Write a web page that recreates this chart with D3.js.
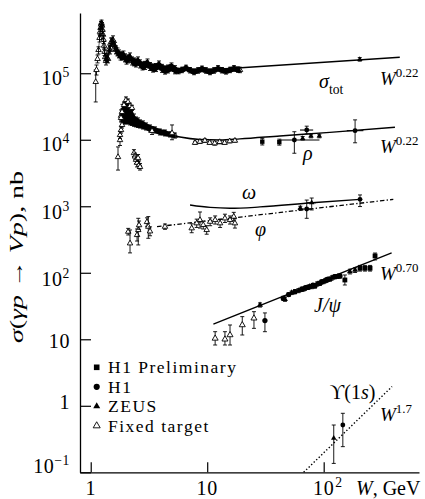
<!DOCTYPE html>
<html>
<head>
<meta charset="utf-8">
<script src="https://cdn.jsdelivr.net/npm/d3@7"></script>
<style>
  html, body { margin: 0; padding: 0; background: #fff; }
  svg { display: block; font-family: "Liberation Serif", "Times New Roman", serif; }
</style>
</head>
<body>
<svg id="chart" width="425" height="499"></svg>
<script>
// Vector-meson photoproduction cross sections sigma(gamma p -> V p) versus W.
// Each point: [W (GeV), sigma (nb), sigma low, sigma high, experiment, W low, W high]
// Experiments: H1P = H1 Preliminary, H1, ZEUS, FT = fixed target.

// Total photoabsorption cross section
const sigmaTotThreshold = [
  [1.104, 7.4e4, 3.7e4, 1.12e5, 'FT'], [1.121, 1.12e5, 9.4e4, 1.33e5, 'FT'],
  [1.144, 1.64e5, 1.43e5, 1.88e5, 'FT']
];
// dense low-energy measurements (sorted in W)
const sigmaTotDense = [
  [1.167, 2.24e5, 1.95e5, 2.5e5, 'FT'],
  [1.19, 3.4e5, 2.95e5, 3.8e5, 'FT'], [1.202, 4.2e5, 3.7e5, 4.7e5, 'FT'],
  [1.214, 4.8e5, 4.2e5, 5.5e5, 'FT'], [1.226, 5.4e5, 4.8e5, 6.0e5, 'FT'],
  [1.238, 5.7e5, 5.0e5, 6.3e5, 'FT'], [1.25, 5.2e5, 4.6e5, 5.8e5, 'FT'],
  [1.263, 4.5e5, 3.9e5, 5.2e5, 'FT'], [1.275, 3.8e5, 3.3e5, 4.3e5, 'FT'],
  [1.288, 3.2e5, 2.8e5, 3.7e5, 'FT'], [1.301, 2.6e5, 2.3e5, 3.0e5, 'FT'],
  [1.314, 2.1e5, 1.85e5, 2.4e5, 'FT'], [1.33, 1.75e5, 1.55e5, 2.0e5, 'FT'],
  [1.353, 1.53e5, 1.33e5, 1.76e5, 'FT'], [1.38, 1.7e5, 1.48e5, 1.96e5, 'FT'],
  [1.408, 1.64e5, 1.43e5, 1.89e5, 'FT'], [1.436, 2.32e5, 2.02e5, 2.67e5, 'FT'],
  [1.465, 2.24e5, 1.95e5, 2.58e5, 'FT'], [1.494, 2.95e5, 2.57e5, 3.39e5, 'FT'],
  [1.523, 2.95e5, 2.57e5, 3.39e5, 'FT'], [1.554, 3.17e5, 2.76e5, 3.65e5, 'FT'],
  [1.585, 2.66e5, 2.31e5, 3.06e5, 'FT'], [1.617, 2.53e5, 2.2e5, 2.91e5, 'FT'],
  [1.649, 2.24e5, 1.95e5, 2.58e5, 'FT'], [1.698, 2.09e5, 1.82e5, 2.4e5, 'FT'],
  [1.75, 1.95e5, 1.7e5, 2.24e5, 'FT'], [1.803, 1.82e5, 1.58e5, 2.09e5, 'FT'],
  [1.857, 1.82e5, 1.58e5, 2.09e5, 'FT'], [1.912, 1.88e5, 1.63e5, 2.16e5, 'FT'],
  [1.97, 1.7e5, 1.48e5, 1.96e5, 'FT'], [2.029, 1.58e5, 1.37e5, 1.82e5, 'FT'],
  [2.09, 1.64e5, 1.43e5, 1.89e5, 'FT'], [2.175, 1.76e5, 1.53e5, 2.02e5, 'FT'],
  [2.262, 1.53e5, 1.33e5, 1.76e5, 'FT'], [2.353, 1.48e5, 1.29e5, 1.7e5, 'FT'],
  [2.448, 1.43e5, 1.24e5, 1.64e5, 'FT'], [2.547, 1.53e5, 1.33e5, 1.76e5, 'FT'],
  [2.65, 1.38e5, 1.2e5, 1.59e5, 'FT'], [2.784, 1.29e5, 1.12e5, 1.48e5, 'FT'],
  [2.925, 1.31e5, 1.14e5, 1.51e5, 'FT'], [3.073, 1.43e5, 1.24e5, 1.64e5, 'FT'],
  [3.228, 1.26e5, 1.1e5, 1.45e5, 'FT'], [3.426, 1.2e5, 1.04e5, 1.38e5, 'FT'],
  [3.636, 1.22e5, 1.06e5, 1.4e5, 'FT'], [3.857, 1.33e5, 1.16e5, 1.53e5, 'FT'],
  [4.093, 1.18e5, 1.03e5, 1.36e5, 'FT'], [4.344, 1.12e5, 9.7e4, 1.29e5, 'FT'],
  [4.608, 1.16e5, 1.01e5, 1.33e5, 'FT'], [4.938, 1.24e5, 1.08e5, 1.43e5, 'FT'],
  [5.292, 1.13e5, 9.8e4, 1.3e5, 'FT'], [5.671, 1.08e5, 9.8e4, 1.19e5, 'FT'],
  [6.077, 1.12e5, 1.02e5, 1.23e5, 'FT'], [6.577, 1.2e5, 1.09e5, 1.32e5, 'FT'],
  [7.119, 1.11e5, 1.01e5, 1.22e5, 'FT'], [7.703, 1.05e5, 9.5e4, 1.16e5, 'FT'],
  [8.337, 1.1e5, 1.0e5, 1.21e5, 'FT'], [9.024, 1.16e5, 1.05e5, 1.28e5, 'FT'],
  [9.765, 1.1e5, 1.0e5, 1.21e5, 'FT'], [10.57, 1.05e5, 9.5e4, 1.16e5, 'FT'],
  [11.44, 1.1e5, 1.0e5, 1.21e5, 'FT'], [12.38, 1.18e5, 1.07e5, 1.3e5, 'FT'],
  [13.4, 1.11e5, 1.01e5, 1.22e5, 'FT'], [14.5, 1.07e5, 9.7e4, 1.18e5, 'FT'],
  [15.7, 1.12e5, 1.02e5, 1.23e5, 'FT'], [16.98, 1.18e5, 1.07e5, 1.3e5, 'FT'],
  [18.38, 1.13e5, 1.03e5, 1.24e5, 'FT'], [19.12, 1.12e5, 1.02e5, 1.23e5, 'FT']
];
const sigmaTotHera = [[204, 1.62e5, 1.52e5, 1.72e5, 'ZEUS']];

// rho
const rhoDense = [
  [1.82, 2.3e4, 1.85e4, 2.81e4, 'FT'], [1.876, 2.7e4, 1.73e4, 3.4e4, 'FT'],
  [1.931, 3.0e4, 1.73e4, 3.57e4, 'FT'], [2.009, 3.2e4, 1.73e4, 3.7e4, 'FT'],
  [2.09, 3.0e4, 1.73e4, 3.57e4, 'FT'], [2.175, 2.6e4, 1.67e4, 3.3e4, 'FT'],
  [2.262, 2.3e4, 1.64e4, 2.9e4, 'FT'], [2.353, 2.0e4, 1.59e4, 2.44e4, 'FT'],
  [2.448, 1.87e4, 1.56e4, 2.2e4, 'FT'], [2.547, 1.8e4, 1.53e4, 2.13e4, 'FT'],
  [2.65, 1.73e4, 1.5e4, 1.99e4, 'FT'], [2.811, 1.66e4, 1.45e4, 1.92e4, 'FT'],
  [2.984, 1.58e4, 1.4e4, 1.79e4, 'FT'], [3.228, 1.48e4, 1.31e4, 1.67e4, 'FT'],
  [3.564, 1.4e4, 1.26e4, 1.56e4, 'FT'], [3.93, 1.31e4, 1.18e4, 1.45e4, 'FT'],
  [4.344, 1.26e4, 1.14e4, 1.4e4, 'FT'], [4.794, 1.2e4, 1.1e4, 1.31e4, 'FT'],
  [5.292, 1.15e4, 1.06e4, 1.26e4, 'FT']
];
const rhoPoints = [
  [1.715, 5.5e3, 3.5e3, 7.8e3, 'FT'], [1.784, 9.9e3, 8.2e3, 1.2e4, 'FT'],
  [1.784, 1.18e4, 1.05e4, 1.33e4, 'FT'], [1.82, 1.4e4, 1.26e4, 1.56e4, 'FT'],
  [1.857, 1.67e4, 1.5e4, 1.85e4, 'FT'], [1.82, 2.13e4, 1.92e4, 2.36e4, 'FT'],
  [1.857, 2.62e4, 2.36e4, 2.9e4, 'FT'], [1.931, 3.33e4, 3.0e4, 3.7e4, 'FT'],
  [2.009, 3.96e4, 3.6e4, 4.4e4, 'FT'], [2.09, 3.7e4, 3.35e4, 4.1e4, 'FT'],
  [2.175, 3.22e4, 2.9e4, 3.55e4, 'FT'], [2.262, 3.01e4, 2.75e4, 3.3e4, 'FT'],
  [3.36, 1.36e4, 1.2e4, 1.56e4, 'FT'], [4.99, 1.26e4, 1.0e4, 1.67e4, 'FT'],
  [2.35, 6.3e3, 5.6e3, 7.1e3, 'FT'], [2.4, 5.6e3, 5.0e3, 6.3e3, 'FT'],
  [2.45, 5.0e3, 4.4e3, 5.7e3, 'FT'], [2.5, 4.5e3, 3.9e3, 5.2e3, 'FT'],
  [2.55, 5.3e3, 4.7e3, 6.0e3, 'FT'], [2.6, 4.2e3, 3.7e3, 4.8e3, 'FT'],
  [2.65, 3.9e3, 3.5e3, 4.4e3, 'FT'],
  [7.86, 9.0e3, 8.5e3, 9.5e3, 'FT'], [8.66, 9.35e3, 8.8e3, 9.9e3, 'FT'],
  [9.55, 9.7e3, 9.1e3, 1.03e4, 'FT'], [10.5, 9.0e3, 8.5e3, 9.5e3, 'FT'],
  [11.6, 8.85e3, 8.3e3, 9.4e3, 'FT'], [12.8, 9.26e3, 8.7e3, 9.8e3, 'FT'],
  [14.1, 9.0e3, 8.5e3, 9.5e3, 'FT'], [15.6, 9.5e3, 9.0e3, 1.0e4, 'FT'],
  [17.3, 9.7e3, 9.2e3, 1.02e4, 'FT'],
  [29.7, 9.36e3, 8.35e3, 1.05e4, 'H1P'], [41.6, 9.2e3, 8.3e3, 1.02e4, 'H1P'],
  [56, 9.9e3, 6.27e3, 1.32e4, 'H1', 42, 92], [66, 1.05e4, 9.9e3, 1.12e4, 'ZEUS'],
  [71.5, 1.4e4, 1.22e4, 1.6e4, 'H1', 62.6, 81.2], [77.8, 1.14e4, 1.07e4, 1.21e4, 'ZEUS'],
  [91.7, 1.14e4, 1.07e4, 1.21e4, 'ZEUS'], [186, 1.37e4, 9.0e3, 1.99e4, 'H1', 158, 219]
];

const omegaPoints = [
  [78.9, 1.13e3, 880, 1.33e3, 'ZEUS', 72, 86],
  [205, 1.27e3, 990, 1.48e3, 'H1']
];

const phiPoints = [
  [2.1, 415, 370, 465, 'FT'], [2.175, 277, 199, 440, 'FT'],
  [2.5, 370, 300, 455, 'FT'], [2.56, 440, 262, 659, 'FT'],
  [2.6, 520, 450, 600, 'FT'], [3.04, 580, 500, 670, 'FT'],
  [3.12, 493, 330, 699, 'FT'], [3.23, 420, 360, 490, 'FT'],
  [4.34, 493, 450, 540, 'FT'], [7.36, 467, 400, 545, 'FT'],
  [8.13, 555, 480, 640, 'FT'], [8.67, 622, 470, 820, 'FT'],
  [9.25, 524, 455, 600, 'FT'], [9.9, 440, 380, 510, 'FT'],
  [10.6, 586, 510, 670, 'FT'], [11.7, 622, 540, 715, 'FT'],
  [12.9, 555, 480, 640, 'FT'], [14.2, 659, 570, 760, 'FT'],
  [15.7, 622, 540, 715, 'FT'], [16.9, 699, 600, 810, 'FT'],
  [17.3, 555, 470, 650, 'FT'],
  [63, 940, 880, 1000, 'ZEUS'], [71.5, 910, 659, 1240, 'H1', 60, 78]
];

const jpsiPoints = [
  [11.7, 10.3, 8.2, 13.0, 'FT'], [14.2, 10.0, 8.2, 13.0, 'FT'],
  [15.7, 11.6, 8.2, 16.4, 'FT'], [20.0, 16.4, 11.6, 21.9, 'FT'],
  [25.2, 20.7, 14.6, 26.0, 'FT'], [31.3, 19.1, 13.0, 24.9, 'H1'],
  [28.4, 32.8, 30.5, 35.2, 'ZEUS'], [45.0, 41.3, 38.5, 44.3, 'H1'],
  [46.5, 39.9, 37.2, 42.8, 'ZEUS'], [50, 47, 44, 50, 'H1'], [53, 50, 47, 53, 'ZEUS'],
  [56.7, 52.0, 48.5, 55.8, 'H1'], [60.6, 53.8, 50.2, 57.7, 'ZEUS'],
  [64.8, 56.5, 52.7, 60.6, 'H1'], [67, 57, 53, 61, 'ZEUS'],
  [69.1, 58.5, 54.6, 62.7, 'ZEUS'], [71, 60, 56, 64, 'H1'],
  [73.8, 60.6, 56.5, 65.0, 'H1'], [76, 62, 58, 66, 'ZEUS'],
  [78.9, 61.8, 57.6, 66.3, 'ZEUS'], [81, 65, 61, 69, 'H1'],
  [84.2, 63.3, 59.0, 67.9, 'H1'], [88, 68, 63, 73, 'ZEUS'],
  [92.9, 69.5, 64.8, 74.5, 'H1'], [96, 73, 68, 78, 'H1'],
  [99.3, 73.5, 68.5, 78.8, 'ZEUS'], [103, 76, 71, 81, 'ZEUS'],
  [106, 77.9, 72.6, 83.5, 'H1'], [109, 80, 75, 85, 'H1'],
  [113, 79.8, 74.4, 85.6, 'ZEUS'], [118, 84, 78, 90, 'ZEUS'],
  [125, 87.3, 81.4, 93.6, 'H1'], [131, 88, 82, 94, 'ZEUS'],
  [138, 89.4, 83.4, 95.9, 'H1'],
  [152, 77.9, 65.5, 92.6, 'H1P'], [168, 104, 96, 113, 'ZEUS'],
  [186, 110, 101, 119, 'ZEUS'], [205, 117, 106, 129, 'H1P'],
  [226, 117, 106, 129, 'H1P'], [250, 117, 106, 129, 'H1P'],
  [276, 179, 156, 198, 'H1P']
];

const upsilonPoints = [
  [122, 0.325, 0.136, 0.514, 'ZEUS'],
  [146, 0.514, 0.243, 0.771, 'H1']
];

// Fit curves
const sigmaTotFit = [[8, 1.09e5], [450, 1.74e5]];
const rhoFit = [[2.65, 1.56e4], [3.93, 1.31e4], [5.84, 1.1e4], [8.66, 1.01e4], [12.9, 9.93e3],
                [19.1, 1.03e4], [42, 1.14e4], [113, 1.29e4], [409, 1.54e4]];
const omegaFit = [[7.12, 1045], [10.6, 959], [15.7, 933], [28.4, 976], [79.4, 1130], [205, 1270]];
const phiFit = [[3.71, 493], [396, 1270]];
const jpsiPowerLaw = { exponent: 0.70, W0: 62.6, sigma0: 56.1, from: 11.3, to: 383 };
const upsilonPowerLaw = { exponent: 1.7, W0: 67.3, sigma0: 0.1, from: 67.3, to: 386 };

// Axis ticks
const xTickValues = [1, 10, 100];
const xTickLabels = [['1', ''], ['10', ''], ['10', '2']];
const yTickValues = [0.1, 1, 10, 100, 1e3, 1e4, 1e5];
const yTickLabels = [['10', '\u22121'], ['1', ''], ['10', ''], ['10', '2'], ['10', '3'], ['10', '4'], ['10', '5']];

const legendItems = [['H1P', 'H1 Preliminary'], ['H1', 'H1'], ['ZEUS', 'ZEUS'], ['FT', 'Fixed target']];

// Curve annotations: [rich-text parts, W, sigma]
const annotations = [
  [[['W', 'i'], ['0.22', 'sup']], 304, 6.67e4],
  [[['\u03C3', 'i'], ['tot', 'sub']], 91.2, 6.01e4],
  [[['W', 'i'], ['0.22', 'sup']], 304, 6.33e3],
  [[['\u03C1', 'i']], 66.4, 4.97e3],
  [[['\u03C9', 'i']], 19.9, 1.29e3],
  [[['\u03C6', 'i']], 25.7, 357],
  [[['W', 'i'], ['0.70', 'sup']], 304, 77.9],
  [[['J/\u03C8', 'i']], 82.6, 25.7],
  [[['\u03D2(1', ''], ['s', 'i'], [')', '']], 113, 1.26],
  [[['W', 'i'], ['1.7', 'sup']], 304, 0.59]
];

// ---------------------------------------------------------------------------
const FS = 20;
const svg = d3.select('#chart');
svg.append('rect').attr('width', 425).attr('height', 499).attr('fill', '#fff');

const x = d3.scaleLog().domain([0.809, 658]).range([80, 419]);
const y = d3.scaleLog().domain([0.1, 8.05e5]).range([472.3, 13]);

function addParts(textSel, parts, fs) {
  let shift = 0;
  parts.forEach(([t, st]) => {
    const target = st.includes('sup') ? -0.4 * fs : st.includes('sub') ? 0.32 * fs : 0;
    const ts = textSel.append('tspan').text(t).attr('dy', target - shift);
    shift = target;
    if (st.includes('i')) ts.attr('font-style', 'italic');
    if (target !== 0) ts.attr('font-size', 0.68 * fs);
  });
}

// Axes
const gy = svg.append('g').attr('transform', 'translate(80,0)')
  .call(d3.axisLeft(y).tickValues(yTickValues).tickSizeInner(-11).tickSizeOuter(0).tickFormat(() => ''));
const gx = svg.append('g').attr('transform', 'translate(0,472.3)')
  .call(d3.axisBottom(x).tickValues(xTickValues).tickSizeInner(-10).tickSizeOuter(0).tickFormat(() => ''));
[gx, gy].forEach(g => {
  g.selectAll('.tick text').remove();
  g.select('.domain').attr('stroke', '#000').attr('stroke-width', 1.3);
  g.selectAll('.tick line').attr('stroke', '#000').attr('stroke-width', 1.2);
});

// Tick labels
const yLabelShift = [0.5, 3, 9, 13, 13, 11, 12];
yTickValues.forEach((v, i) => {
  const [base, sup] = yTickLabels[i];
  const t = svg.append('text').attr('x', 70).attr('y', y(v) + yLabelShift[i])
    .attr('text-anchor', 'end').attr('font-size', FS).attr('letter-spacing', 0.6);
  addParts(t, sup ? [[base, ''], [sup, 'sup']] : [[base, '']], FS);
});
xTickValues.forEach((v, i) => {
  const [base, sup] = xTickLabels[i];
  const t = svg.append('text').attr('x', x(v)).attr('y', 495)
    .attr('text-anchor', 'middle').attr('font-size', FS).attr('letter-spacing', 0.6).text(base);
  if (sup) {
    const w = t.node().getComputedTextLength();
    svg.append('text').attr('x', x(v) + w / 2 + 1).attr('y', 495 - 0.4 * FS)
      .attr('font-size', 0.68 * FS).text(sup);
  }
});
const xt = svg.append('text').attr('x', 356).attr('y', 495).attr('font-size', FS);
addParts(xt, [['W', 'i'], [', GeV', '']], FS);

// Y axis title
const yt = svg.append('text').attr('transform', 'translate(23,257) rotate(-90)')
  .attr('text-anchor', 'middle').attr('font-size', 19)
  .attr('textLength', 172).attr('lengthAdjust', 'spacingAndGlyphs');
addParts(yt, [['\u03C3', 'i'], ['(', ''], ['\u03B3p', 'i'], [' \u2192 ', ''], ['Vp', 'i'], ['), nb', '']], 19);

// Fit curves
const line = d3.line().x(d => x(d[0])).y(d => y(d[1]));
const smooth = d3.line().x(d => x(d[0])).y(d => y(d[1])).curve(d3.curveMonotoneX);
const powerLaw = f => [f.from, f.to].map(W => [W, f.sigma0 * Math.pow(W / f.W0, f.exponent)]);
const fits = svg.append('g').attr('fill', 'none').attr('stroke', '#000');
fits.append('path').attr('d', line(sigmaTotFit)).attr('stroke-width', 1.4);
fits.append('path').attr('d', smooth(rhoFit)).attr('stroke-width', 1.4);
fits.append('path').attr('d', smooth(omegaFit)).attr('stroke-width', 1.3);
fits.append('path').attr('d', line(phiFit)).attr('stroke-width', 1.3).attr('stroke-dasharray', '4.5,2.2,1.3,2.2');
fits.append('path').attr('d', line(powerLaw(jpsiPowerLaw))).attr('stroke-width', 1.4);
fits.append('path').attr('d', line(powerLaw(upsilonPowerLaw))).attr('stroke-width', 1.4).attr('stroke-dasharray', '1.4,2.1');

// Markers
function drawMarker(g, type, cx, cy, s, openFill) {
  if (type === 'H1P') {
    g.append('rect').attr('x', cx - s / 2).attr('y', cy - s / 2).attr('width', s).attr('height', s).attr('fill', '#000');
  } else if (type === 'H1') {
    g.append('circle').attr('cx', cx).attr('cy', cy).attr('r', s * 0.55).attr('fill', '#000');
  } else {
    const a = s * 1.25, h = a * Math.sqrt(3) / 2;
    const p = `M${cx},${cy - h * 2 / 3}L${cx + a / 2},${cy + h / 3}L${cx - a / 2},${cy + h / 3}Z`;
    if (type === 'ZEUS') g.append('path').attr('d', p).attr('fill', '#000');
    else g.append('path').attr('d', p).attr('fill', openFill).attr('stroke', '#000').attr('stroke-width', 0.9);
  }
}

function drawPoints(data, size = 4.4, openFill = '#fff') {
  const g = svg.append('g');
  data.forEach(([W, s, lo, hi, exp, wlo, whi]) => {
    const cx = x(W), cy = y(s);
    if (lo != null) {
      const y0 = y(lo), y1 = y(hi);
      g.append('path').attr('d', `M${cx},${y0}V${y1}M${cx - 2},${y0}H${cx + 2}M${cx - 2},${y1}H${cx + 2}`)
        .attr('stroke', '#000').attr('stroke-width', 0.9).attr('fill', 'none');
    }
    if (wlo != null) {
      g.append('path').attr('d', `M${x(wlo)},${cy}H${x(whi)}`)
        .attr('stroke', '#000').attr('stroke-width', 1.1).attr('fill', 'none');
    }
    drawMarker(g, exp, cx, cy, size, openFill);
  });
}

// Densely measured regions: the overlapping error bars merge into a solid band
const band = d3.area().x(d => x(d[0])).y0(d => y(d[2])).y1(d => y(d[3]));
svg.append('path').attr('d', band(sigmaTotDense)).attr('fill', '#000');
svg.append('path').attr('d', band(rhoDense)).attr('fill', '#000');

drawPoints(sigmaTotThreshold);
drawPoints(sigmaTotDense, 4.4, 'none');
drawPoints(sigmaTotHera);
drawPoints(rhoDense, 4.4, 'none');
drawPoints(rhoPoints);
drawPoints(omegaPoints);
drawPoints(phiPoints);
drawPoints(jpsiPoints, 4.8);
drawPoints(upsilonPoints);

// Curve labels
annotations.forEach(([parts, W, s]) => {
  const isW = parts[0][0] === 'W';
  const fs = isW ? 19 : 20;
  const t = svg.append('text').attr('x', x(W)).attr('y', y(s)).attr('font-size', fs);
  addParts(t, parts, fs);
});

// Legend
const LFS = 17.5;
const lg = svg.append('g');
legendItems.forEach(([type, label], i) => {
  const cy = 367.3 + i * 19.5;
  drawMarker(lg, type, 96.7, cy, 5.6, '#fff');
  lg.append('text').attr('x', 108).attr('y', cy + 6).attr('font-size', LFS)
    .attr('letter-spacing', 1.5).text(label);
});
</script>
</body>
</html>
